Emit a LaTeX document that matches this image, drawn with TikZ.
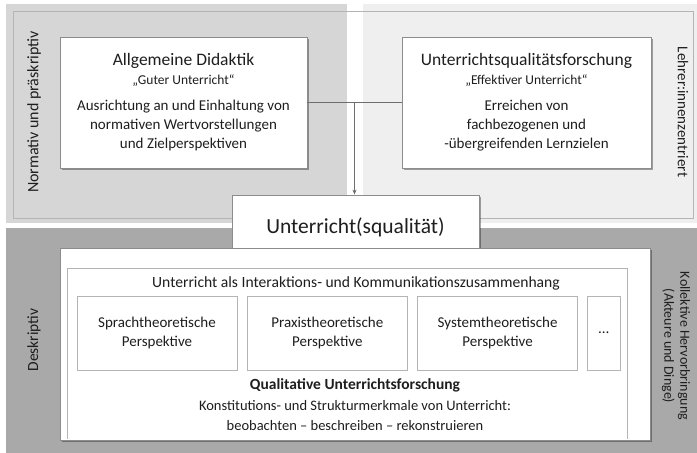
\documentclass[tikz,border=0pt]{standalone}
\usepackage{fontspec}
\setmainfont{Carlito}
\usetikzlibrary{positioning, calc, arrows.meta, shadows}

\definecolor{panelmid}{HTML}{D6D6D6}
\definecolor{panellight}{HTML}{EFEFEF}
\definecolor{paneldark}{HTML}{A9A9A9}
\definecolor{frameline}{HTML}{B4B4B4}
\definecolor{boxline}{HTML}{8C8C8C}
\definecolor{linkline}{HTML}{6E6E6E}
\definecolor{txt}{HTML}{1E1E1E}

\tikzset{
  mainbox/.style={draw=boxline, fill=white, line width=0.8pt, align=center, text=txt, inner sep=0pt,
    drop shadow={shadow xshift=1.5pt, shadow yshift=-1.5pt, fill=black, opacity=0.35}},
  perspbox/.style={draw=frameline, fill=white, line width=0.8pt, align=center, text=txt, inner sep=0pt,
    minimum width=160pt, minimum height=74pt},
  sidelabel/.style={text=txt, align=center},
}

\begin{document}
\begin{tikzpicture}[x=1pt, y=-1pt, >={Stealth[length=5pt, width=4pt]}, font=\fontsize{15}{19}\selectfont]
    \useasboundingbox (0,0) rectangle (697,453);

    % --- BACKGROUND PANELS ---
    \fill[panelmid] (6,4) rectangle (347,223);
    \fill[panellight] (363,4) rectangle (697,223);
    \fill[paneldark] (6,228) rectangle (697,453);
    \draw[frameline, line width=0.8pt] (13,11) rectangle (693,218);

    % --- NORMATIVE / TEACHER-CENTRED BOXES ---
    \node[mainbox, minimum width=247pt, minimum height=131pt] (didaktik) at (183.5,102.5)
        {{\fontsize{17.5}{18}\selectfont Allgemeine Didaktik}\\
         {\fontsize{13.5}{14}\selectfont „Guter Unterricht“}\\[7pt]
         Ausrichtung an und Einhaltung von\\normativen Wertvorstellungen\\und Zielperspektiven};
    \node[mainbox, minimum width=249pt, minimum height=131pt] (forschung) at (526.5,102.5)
        {{\fontsize{17.5}{18}\selectfont Unterrichtsqualitätsforschung}\\
         {\fontsize{13.5}{14}\selectfont „Effektiver Unterricht“}\\[7pt]
         Erreichen von\\fachbezogenen und\\-übergreifenden Lernzielen};

    % Center box
    \node[mainbox, minimum width=247pt, minimum height=65pt, font=\fontsize{21.5}{24}\selectfont]
        (unterricht) at (355.5,227.5) {Unterricht(squalität)};

    % Connector and arrow
    \coordinate (knoten) at ($(didaktik.east)!0.5!(forschung.west)$);
    \draw[linkline, line width=1.3pt] (didaktik.east) -- (forschung.west);
    \draw[->, linkline, line width=1pt] (knoten) -- (knoten |- unterricht.north);

    % --- DESCRIPTIVE PART ---
    \node[mainbox, minimum width=590pt, minimum height=192pt] (deskr) at (355,344) {};
    \draw[frameline, line width=0.8pt] (67,439) |- (627,268) -- (627,439);
    \node[text=txt, font=\fontsize{15.6}{19}\selectfont] (titel) at (356,283)
        {Unterricht als Interaktions- und Kommunikationszusammenhang};

    \node[perspbox] (sprach) at (157,333) {Sprachtheoretische\\Perspektive};
    \node[perspbox, right=9.5pt of sprach] (praxis) {Praxistheoretische\\Perspektive};
    \node[perspbox, right=9.5pt of praxis] (system) {Systemtheoretische\\Perspektive};
    \node[perspbox, minimum width=33pt, right=9pt of system] (weitere) {\dots};

    \node[text=txt, align=center, font=\fontsize{14.5}{20.5}\selectfont] (qual) at (355,405)
        {{\fontsize{15.5}{20.5}\selectfont\bfseries Qualitative Unterrichtsforschung}\\
         Konstitutions- und Strukturmerkmale von Unterricht:\\
         beobachten – beschreiben – rekonstruieren};

    % Side labels
    \node[sidelabel, rotate=90, font=\fontsize{16}{19}\selectfont] (normativ) at (34,112) {Normativ und präskriptiv};
    \node[sidelabel, rotate=-90, font=\fontsize{15}{19}\selectfont] (lehrer) at (683,112) {Lehrer:innenzentriert};
    \node[sidelabel, rotate=90, font=\fontsize{15.5}{19}\selectfont] (deskriptiv) at (34,340) {Deskriptiv};
    \node[sidelabel, rotate=-90, font=\fontsize{14}{16}\selectfont] (kollektiv) at (676,346)
        {Kollektive Hervorbringung\\(Akteure und Dinge)};
\end{tikzpicture}
\end{document}
